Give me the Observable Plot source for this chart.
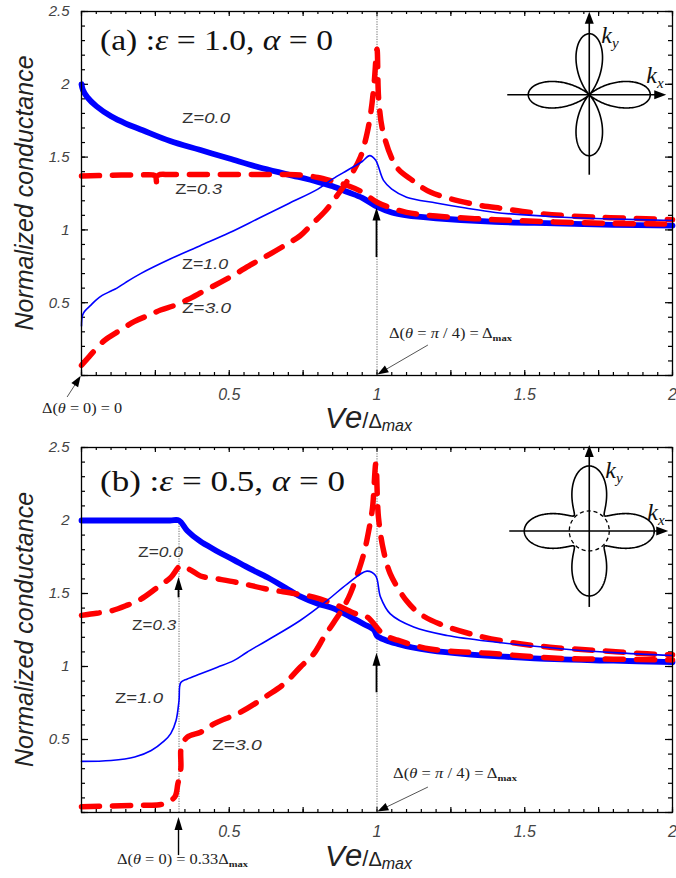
<!DOCTYPE html>
<html>
<head>
<meta charset="utf-8">
<script src="https://cdn.jsdelivr.net/npm/d3@7"></script>
<script src="https://cdn.jsdelivr.net/npm/@observablehq/plot@0.6"></script>
<style>
  body { margin: 0; background: #fff; }
  #chart svg { display: block; }
  #chart g[aria-label$="tick label"] text { font-style: italic; }
</style>
</head>
<body>
<div id="chart"></div>
<script>
// ---- axis tick labels ----
const xTickLabels = [0.5, 1, 1.5, 2];
const yTickLabels = [0.5, 1, 1.5, 2, 2.5];

// ---- panel (a): ε = 1.0, α = 0 ----
const aZ00x = [0, 0.005, 0.02, 0.05, 0.1, 0.15, 0.2, 0.3, 0.4, 0.5, 0.6, 0.7, 0.8, 0.85, 0.9, 0.95, 1.0, 1.05, 1.1, 1.2, 1.4, 1.6, 1.8, 2.0];
const aZ00y = [2.0, 1.96, 1.91, 1.85, 1.78, 1.73, 1.69, 1.61, 1.55, 1.49, 1.43, 1.38, 1.33, 1.30, 1.26, 1.22, 1.16, 1.12, 1.10, 1.08, 1.055, 1.045, 1.035, 1.03];

const aZ03x = [0, 0.1, 0.2, 0.24, 0.25, 0.255, 0.26, 0.3, 0.4, 0.5, 0.6, 0.7, 0.75, 0.8, 0.85, 0.9, 0.95, 1.0, 1.05, 1.1, 1.2, 1.4, 1.6, 1.8, 2.0];
const aZ03y = [1.37, 1.375, 1.378, 1.378, 1.37, 1.31, 1.375, 1.38, 1.38, 1.38, 1.38, 1.38, 1.375, 1.36, 1.335, 1.305, 1.26, 1.19, 1.15, 1.12, 1.095, 1.07, 1.055, 1.045, 1.04];

const aZ10x = [0, 0.003, 0.01, 0.03, 0.05, 0.07, 0.1, 0.12, 0.15, 0.2, 0.3, 0.4, 0.5, 0.6, 0.7, 0.8, 0.85, 0.9, 0.95, 0.975, 0.995, 1.022, 1.05, 1.1, 1.2, 1.3, 1.4, 1.6, 1.8, 2.0];
const aZ10y = [0.34, 0.41, 0.44, 0.48, 0.52, 0.55, 0.58, 0.60, 0.64, 0.70, 0.80, 0.89, 0.98, 1.08, 1.18, 1.28, 1.35, 1.41, 1.47, 1.51, 1.48, 1.34, 1.28, 1.225, 1.185, 1.15, 1.12, 1.09, 1.075, 1.065];

const aZ30x = [0, 0.026, 0.077, 0.122, 0.178, 0.223, 0.268, 0.313, 0.358, 0.414, 0.47, 0.515, 0.572, 0.617, 0.685, 0.74, 0.78, 0.825, 0.87, 0.91, 0.944, 0.966, 0.98, 0.99, 1.0, 1.006, 1.022, 1.067, 1.12, 1.18, 1.32, 1.43, 1.56, 1.745, 1.91, 2.0];
const aZ30y = [0.07, 0.13, 0.24, 0.30, 0.37, 0.41, 0.45, 0.48, 0.52, 0.58, 0.64, 0.69, 0.76, 0.81, 0.89, 0.96, 1.04, 1.13, 1.25, 1.37, 1.50, 1.66, 1.82, 2.0, 2.24, 1.89, 1.66, 1.43, 1.34, 1.26, 1.18, 1.145, 1.11, 1.087, 1.077, 1.07];

// ---- panel (b): ε = 0.5, α = 0 ----
const bZ00x = [0, 0.1, 0.2, 0.3, 0.33, 0.358, 0.40, 0.45, 0.515, 0.57, 0.63, 0.69, 0.74, 0.8, 0.85, 0.91, 0.956, 0.99, 1.0, 1.03, 1.07, 1.12, 1.18, 1.3, 1.41, 1.6, 1.8, 2.0];
const bZ00y = [2.0, 2.0, 2.0, 2.0, 2.0, 1.93, 1.86, 1.80, 1.73, 1.67, 1.61, 1.54, 1.48, 1.43, 1.40, 1.34, 1.29, 1.25, 1.21, 1.18, 1.155, 1.13, 1.11, 1.085, 1.07, 1.05, 1.04, 1.03];

const bZ03x = [0, 0.031, 0.098, 0.155, 0.2, 0.256, 0.302, 0.336, 0.37, 0.403, 0.46, 0.54, 0.628, 0.72, 0.786, 0.864, 0.93, 0.966, 1.022, 1.07, 1.18, 1.38, 1.63, 1.8, 2.0];
const bZ03y = [1.35, 1.36, 1.38, 1.42, 1.46, 1.54, 1.61, 1.69, 1.66, 1.62, 1.60, 1.57, 1.53, 1.50, 1.475, 1.42, 1.36, 1.34, 1.22, 1.18, 1.12, 1.09, 1.055, 1.05, 1.045];

const bZ10x = [0, 0.1, 0.18, 0.236, 0.28, 0.302, 0.32, 0.33, 0.336, 0.358, 0.403, 0.46, 0.515, 0.56, 0.628, 0.74, 0.83, 0.9, 0.966, 0.995, 1.012, 1.045, 1.124, 1.237, 1.405, 1.63, 1.8, 2.0];
const bZ10y = [0.35, 0.356, 0.38, 0.425, 0.49, 0.54, 0.63, 0.767, 0.89, 0.915, 0.95, 0.995, 1.04, 1.098, 1.178, 1.315, 1.45, 1.566, 1.653, 1.623, 1.475, 1.36, 1.27, 1.212, 1.166, 1.12, 1.095, 1.075];

const bZ30x = [0, 0.1, 0.2, 0.27, 0.315, 0.326, 0.336, 0.338, 0.358, 0.403, 0.448, 0.538, 0.628, 0.685, 0.74, 0.786, 0.82, 0.853, 0.887, 0.91, 0.93, 0.955, 0.972, 0.985, 0.996, 1.005, 1.022, 1.045, 1.1, 1.146, 1.214, 1.315, 1.45, 1.585, 1.745, 1.914, 2.0];
const bZ30y = [0.04, 0.045, 0.05, 0.055, 0.105, 0.196, 0.3, 0.45, 0.516, 0.55, 0.607, 0.687, 0.80, 0.88, 0.995, 1.087, 1.2, 1.30, 1.406, 1.50, 1.61, 1.77, 1.93, 2.09, 2.39, 2.02, 1.795, 1.635, 1.45, 1.36, 1.29, 1.224, 1.166, 1.132, 1.11, 1.087, 1.08];

// ---- shared layout ----
const W = 676, ML = 81, MR = 4;
const BLUE = "#0000ff", RED = "#ff0000";
const SERIF = "'Liberation Serif', 'Times New Roman', serif";
const SANS = "'Liberation Sans', Arial, sans-serif";

const rows = (xs, ys) => xs.map((x, i) => ({x, y: ys[i]}));
const xMinor = d3.range(0, 2.0001, 0.05), xMajor = d3.range(0, 2.0001, 0.25);
const yMinor = d3.range(0, 2.5001, 0.1), yMajor = d3.range(0, 2.5001, 0.5);

const thick = {stroke: BLUE, strokeWidth: 5.8};
const thin = {stroke: BLUE, strokeWidth: 1.6};
const dashed = {stroke: RED, strokeWidth: 5.5, strokeDasharray: "18,13", strokeLinecap: "round"};

function richText(g, x, y, parts, o) {
  const t = g.append("text").attr("x", x).attr("y", y)
    .attr("font-family", o.family || SERIF).attr("font-size", o.size)
    .attr("fill", o.fill || "#111").attr("text-anchor", o.anchor || "start");
  for (const p of parts) {
    const s = t.append("tspan").text(p.t);
    if (p.i) s.attr("font-style", "italic");
    if (p.size) s.attr("font-size", p.size);
    if (p.dy) s.attr("dy", p.dy);
    if (p.w) s.attr("font-weight", p.w);
    if (p.family) s.attr("font-family", p.family);
  }
  if (o.width) t.attr("textLength", o.width).attr("lengthAdjust", "spacingAndGlyphs");
  if (o.transform) t.attr("transform", o.transform);
  return t;
}

function arrow(g, x1, y1, x2, y2, {len = 12, w = 8, sw = 1.6, line = "#000", head = "#000"} = {}) {
  const dx = x2 - x1, dy = y2 - y1, L = Math.hypot(dx, dy), ux = dx / L, uy = dy / L;
  const bx = x2 - ux * len, by = y2 - uy * len;
  g.append("line").attr("x1", x1).attr("y1", y1).attr("x2", bx + ux * 2).attr("y2", by + uy * 2)
    .attr("stroke", line).attr("stroke-width", sw);
  g.append("path")
    .attr("d", `M${x2},${y2}L${bx + uy * w / 2},${by - ux * w / 2}L${bx - uy * w / 2},${by + ux * w / 2}Z`)
    .attr("fill", head);
}

// d-wave gap |Δ(θ)| sketched in the k-plane
function inset(g, cx, cy, o) {
  const s = g.append("g").attr("transform", `translate(${cx},${cy})`);
  const gap = t => o.R * (o.eps + (1 - o.eps) * Math.abs(Math.cos(2 * t)) ** o.p);
  s.append("path")
    .attr("d", d3.lineRadial().angle(t => t).radius(gap).curve(d3.curveLinearClosed)(d3.range(0, 2 * Math.PI, 0.01)))
    .attr("fill", "none").attr("stroke", "#000").attr("stroke-width", 1.6);
  if (o.circle) s.append("circle").attr("r", o.circle).attr("fill", "none")
    .attr("stroke", "#000").attr("stroke-width", 1.3).attr("stroke-dasharray", "4,3");
  arrow(s, -o.left, 0, o.right, 0, {len: 12, w: 9, sw: 1.6});
  arrow(s, 0, o.down, 0, -o.up, {len: 12, w: 9, sw: 1.6});
  richText(s, o.kx[0], o.kx[1], [{t: "k", i: 1}, {t: "x", i: 1, size: 15, dy: 5}], {size: 24});
  richText(s, o.ky[0], o.ky[1], [{t: "k", i: 1}, {t: "y", i: 1, size: 15, dy: 5}], {size: 24});
}

function panel(cfg) {
  const {height, marginTop, marginBottom} = cfg;
  const plotH = height - marginTop - marginBottom, plotW = W - ML - MR;
  const chart = Plot.plot({
    width: W, height, marginLeft: ML, marginRight: MR, marginTop, marginBottom,
    x: {domain: [0, 2]},
    y: {domain: [0, 2.5]},
    style: {fontFamily: SANS, background: "#fff", color: "#000", overflow: "visible"},
    marks: [
      // inward ticks on all four sides of the frame
      Plot.tickX(xMinor, {x: d => d, insetTop: plotH - 3, strokeWidth: 1.2}),
      Plot.tickX(xMajor, {x: d => d, insetTop: plotH - 5, strokeWidth: 1.2}),
      Plot.tickX(xMinor, {x: d => d, insetBottom: plotH - 3, strokeWidth: 1.2}),
      Plot.tickX(xMajor, {x: d => d, insetBottom: plotH - 5, strokeWidth: 1.2}),
      Plot.tickY(yMinor, {y: d => d, insetRight: plotW - 4, strokeWidth: 1.2}),
      Plot.tickY(yMajor, {y: d => d, insetRight: plotW - 7, strokeWidth: 1.2}),
      Plot.tickY(yMinor, {y: d => d, insetLeft: plotW - 4, strokeWidth: 1.2}),
      Plot.tickY(yMajor, {y: d => d, insetLeft: plotW - 7, strokeWidth: 1.2}),
      Plot.axisX(xTickLabels, {tickSize: 0, tickPadding: 13, fontSize: 16, fontStyle: "italic", fill: "#444", tickFormat: d => `${d}`, label: null}),
      Plot.axisY(yTickLabels, {tickSize: 0, tickPadding: 12, fontSize: 15, fontStyle: "italic", fill: "#444", tickFormat: d => `${d}`, label: null}),
      // guide lines at the gap edges
      ...cfg.guides.map(gd => Plot.ruleX([gd.x], {y1: gd.from, y2: gd.to, stroke: "#888", strokeWidth: 1.2, strokeDasharray: "1.2,1.3"})),
      Plot.line(rows(...cfg.z00), {x: "x", y: "y", curve: "catmull-rom", strokeLinejoin: "round", ...thick}),
      Plot.line(rows(...cfg.z03), {x: "x", y: "y", curve: "catmull-rom", ...dashed}),
      Plot.line(rows(...cfg.z30), {x: "x", y: "y", curve: "catmull-rom", ...dashed}),
      Plot.line(rows(...cfg.z10), {x: "x", y: "y", curve: "catmull-rom", strokeLinejoin: "round", ...thin}),
      Plot.frame({stroke: "#000", strokeWidth: 1.3})
    ]
  });

  const X = chart.scale("x"), Y = chart.scale("y");
  const px = v => X.apply(v), py = v => Y.apply(v);
  const g = d3.select(chart).append("g");

  // panel title
  richText(g, 100, cfg.titleY, cfg.title, {size: 29, width: cfg.titleW, fill: "#111"});

  // curve labels
  for (const l of cfg.zLabels) {
    richText(g, px(l.x), py(l.y), [{t: "Z="}, {t: l.v, i: 1}], {family: SANS, size: 14.5, fill: "#333", width: l.w});
  }

  // arrows pointing at the gap features
  for (const a of cfg.arrows) {
    arrow(g, px(a.x1), py(a.y1), px(a.x2), py(a.y2), a.style);
  }

  // gap annotations
  for (const n of cfg.notes) richText(g, n.x, n.y, n.parts, {size: 14, width: n.w, fill: "#222"});

  inset(g, px(1.72), py(1.925), cfg.inset);

  // axis titles
  const cy = (marginTop + height - marginBottom) / 2;
  richText(g, 33, cy, [{t: "Normalized conductance"}], {family: SANS, size: 25, fill: "#222", anchor: "middle",
    transform: `rotate(-90,33,${cy})`}).attr("font-style", "italic");
  richText(g, 325, 428, [
    {t: "V", i: 1, size: 30}, {t: "e", i: 1, size: 31}, {t: "/", size: 22},
    {t: "Δ", size: 20}, {t: "max", i: 1, size: 16, dy: 3}
  ], {family: SANS, size: 30, fill: "#222"});

  return chart;
}

const piNote = [{t: "Δ("}, {t: "θ", i: 1}, {t: " = "}, {t: "π", i: 1}, {t: " / 4) = Δ"}, {t: "max", size: 9, w: "bold", dy: 3}];

const chartA = panel({
  height: 438, marginTop: 11, marginBottom: 63,
  z00: [aZ00x, aZ00y], z03: [aZ03x, aZ03y], z10: [aZ10x, aZ10y], z30: [aZ30x, aZ30y],
  title: [{t: "(a) :"}, {t: "ε", i: 1}, {t: " = 1.0, "}, {t: "α", i: 1}, {t: " = 0"}],
  titleY: 50, titleW: 233,
  guides: [{x: 1, from: 0, to: 2.5}],
  zLabels: [
    {v: "0.0", x: 0.342, y: 1.73, w: 48},
    {v: "0.3", x: 0.319, y: 1.243, w: 47},
    {v: "1.0", x: 0.342, y: 0.728, w: 46},
    {v: "3.0", x: 0.342, y: 0.426, w: 49}
  ],
  arrows: [
    {x1: 1, y1: 0.81, x2: 1, y2: 1.15, style: {len: 13, w: 8, sw: 1.8}},
    {x1: 1.174, y1: 0.206, x2: 1.003, y2: 0.004, style: {len: 11, w: 8, sw: 1, line: "#555"}},
    {x1: -0.047, y1: -0.151, x2: -0.001, y2: -0.006, style: {len: 11, w: 8, sw: 1, line: "#555"}}
  ],
  notes: [
    {x: 389, y: 338, w: 123, parts: piNote},
    {x: 42, y: 413, w: 80, parts: [{t: "Δ("}, {t: "θ", i: 1}, {t: " = 0) = 0"}]}
  ],
  inset: {R: 61, eps: 0, p: 1.7, left: 82, right: 77, up: 83, down: 80, kx: [57, -12], ky: [12, -52]}
});

const chartB = panel({
  height: 440, marginTop: 9, marginBottom: 66,
  z00: [bZ00x, bZ00y], z03: [bZ03x, bZ03y], z10: [bZ10x, bZ10y], z30: [bZ30x, bZ30y],
  title: [{t: "(b) :"}, {t: "ε", i: 1}, {t: " = 0.5, "}, {t: "α", i: 1}, {t: " = 0"}],
  titleY: 53, titleW: 245,
  guides: [{x: 1, from: 0, to: 2.5}, {x: 0.33, from: 0, to: 2.0}],
  zLabels: [
    {v: "0.0", x: 0.193, y: 1.747, w: 45},
    {v: "0.3", x: 0.173, y: 1.247, w: 44},
    {v: "1.0", x: 0.115, y: 0.747, w: 48},
    {v: "3.0", x: 0.443, y: 0.425, w: 50}
  ],
  arrows: [
    {x1: 0.33, y1: 1.47, x2: 0.33, y2: 1.61, style: {len: 13, w: 8, sw: 1.8}},
    {x1: 1, y1: 0.82, x2: 1, y2: 1.09, style: {len: 13, w: 8, sw: 1.8}},
    {x1: 0.33, y1: -0.295, x2: 0.33, y2: -0.034, style: {len: 13, w: 8, sw: 1.4}},
    {x1: 1.174, y1: 0.171, x2: 1.003, y2: 0.004, style: {len: 11, w: 8, sw: 1, line: "#555"}}
  ],
  notes: [
    {x: 393, y: 340, w: 124, parts: piNote},
    {x: 117, y: 426, w: 131, parts: [{t: "Δ("}, {t: "θ", i: 1}, {t: " = 0) = 0.33Δ"}, {t: "max", size: 9, w: "bold", dy: 3}]}
  ],
  inset: {R: 65, eps: 0.33, p: 1.8, circle: 20, left: 80, right: 79, up: 86, down: 76, kx: [58, -11], ky: [16, -53]}
});

document.getElementById("chart").append(chartA, chartB);
</script>
</body>
</html>
